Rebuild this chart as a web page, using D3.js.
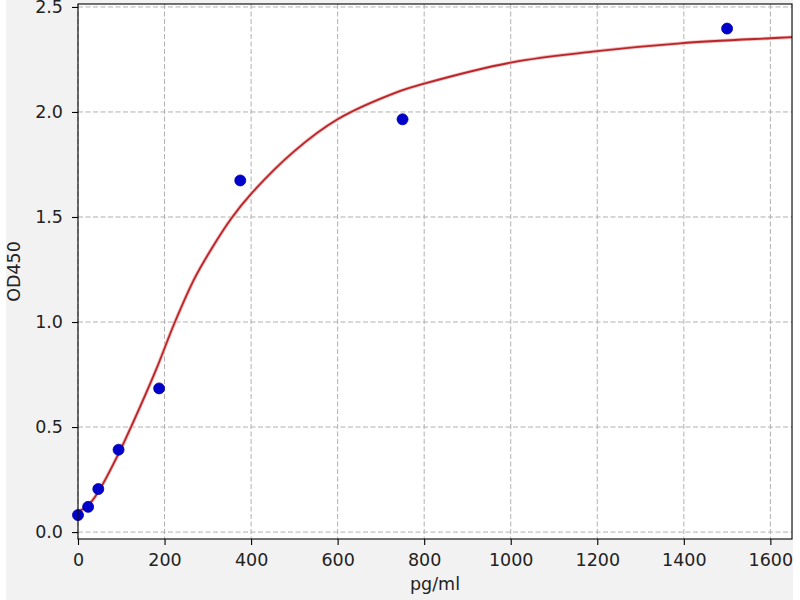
<!DOCTYPE html>
<html>
<head>
<meta charset="utf-8">
<script src="https://cdn.jsdelivr.net/npm/d3@7"></script>
<style>
  html, body { margin: 0; padding: 0; background: #ffffff; }
  svg { display: block; font-family: "DejaVu Sans", sans-serif; }
</style>
</head>
<body>
<svg id="chart" width="800" height="600"></svg>
<script>
// standard concentrations (pg/ml) and measured OD450
const concentrations = [0, 23.4, 46.9, 93.75, 187.5, 375, 750, 1500];
const odValues = [0.081, 0.12, 0.205, 0.392, 0.684, 1.674, 1.965, 2.397];

// fitted curve
const curveX = [0, 22, 45, 93, 122.5, 180, 224, 270, 309, 355, 400, 498, 600, 745, 800, 1000, 1200, 1392, 1600, 1650];
const curveY = [0.097, 0.125, 0.185, 0.37, 0.5, 0.771, 1.0, 1.21, 1.35, 1.495, 1.61, 1.81, 1.965, 2.1, 2.135, 2.235, 2.29, 2.327, 2.351, 2.356];

const xTicks = [0, 200, 400, 600, 800, 1000, 1200, 1400, 1600];
const yTicks = [0.0, 0.5, 1.0, 1.5, 2.0, 2.5];

const svg = d3.select('#chart');

// figure background
svg.append('rect')
    .attr('x', 6).attr('y', 0)
    .attr('width', 787).attr('height', 600)
    .attr('fill', '#f2f2f2');

const plotL = 78, plotR = 792, plotT = 4, plotB = 539;

const x = d3.scaleLinear().domain([0, 1650]).range([plotL, plotR]);
const y = d3.scaleLinear().domain([-0.033, 2.514]).range([plotB, plotT]);

svg.append('rect')
    .attr('x', plotL).attr('y', plotT)
    .attr('width', plotR - plotL).attr('height', plotB - plotT)
    .attr('fill', '#ffffff');

// grid
const grid = svg.append('g').attr('class', 'grid')
    .attr('stroke', '#b0b0b0').attr('stroke-width', 1)
    .attr('stroke-dasharray', '5,2.5');

grid.selectAll('.gx').data(xTicks).enter().append('line')
    .attr('x1', d => x(d)).attr('x2', d => x(d))
    .attr('y1', plotT).attr('y2', plotB);

grid.selectAll('.gy').data(yTicks).enter().append('line')
    .attr('x1', plotL).attr('x2', plotR)
    .attr('y1', d => y(d)).attr('y2', d => y(d));

// fitted curve
const line = d3.line()
    .x(d => x(d[0]))
    .y(d => y(d[1]))
    .curve(d3.curveCatmullRom.alpha(0.5));

const curveData = curveX.map((v, i) => [v, curveY[i]]);

svg.append('path')
    .datum(curveData)
    .attr('fill', 'none')
    .attr('stroke', '#f4b8b8')
    .attr('stroke-width', 3.5)
    .attr('d', line);

svg.append('path')
    .datum(curveData)
    .attr('fill', 'none')
    .attr('stroke', '#b8262a')
    .attr('stroke-width', 1.8)
    .attr('d', line);

// points
svg.append('g').selectAll('circle')
    .data(concentrations.map((c, i) => [c, odValues[i]]))
    .enter().append('circle')
    .attr('cx', d => x(d[0]))
    .attr('cy', d => y(d[1]))
    .attr('r', 5.5)
    .attr('fill', '#0000cc')
    .attr('stroke', '#00009a')
    .attr('stroke-width', 0.8);

// frame
svg.append('rect')
    .attr('x', plotL).attr('y', plotT)
    .attr('width', plotR - plotL).attr('height', plotB - plotT)
    .attr('fill', 'none')
    .attr('stroke', '#000').attr('stroke-width', 1.1);

// axes
const xAxis = svg.append('g')
    .attr('transform', `translate(0,${plotB})`)
    .call(d3.axisBottom(x).tickValues(xTicks).tickSize(6).tickPadding(9).tickFormat(d3.format('d')));

const yAxis = svg.append('g')
    .attr('transform', `translate(${plotL},0)`)
    .call(d3.axisLeft(y).tickValues(yTicks).tickSize(6).tickPadding(9).tickFormat(d3.format('.1f')));

[xAxis, yAxis].forEach(a => {
    a.select('.domain').remove();
    a.selectAll('.tick line').attr('stroke', '#000').attr('stroke-width', 1.1);
    a.selectAll('.tick text')
        .attr('fill', '#222')
        .style('font-family', '"DejaVu Sans", sans-serif')
        .style('font-size', '17.5px');
});

svg.append('text')
    .attr('x', (plotL + plotR) / 2)
    .attr('y', 590)
    .attr('text-anchor', 'middle')
    .attr('fill', '#222')
    .style('font-size', '17.5px')
    .text('pg/ml');

svg.append('text')
    .attr('transform', `translate(20,${(plotT + plotB) / 2}) rotate(-90)`)
    .attr('text-anchor', 'middle')
    .attr('fill', '#222')
    .style('font-size', '17.5px')
    .text('OD450');
</script>
</body>
</html>
